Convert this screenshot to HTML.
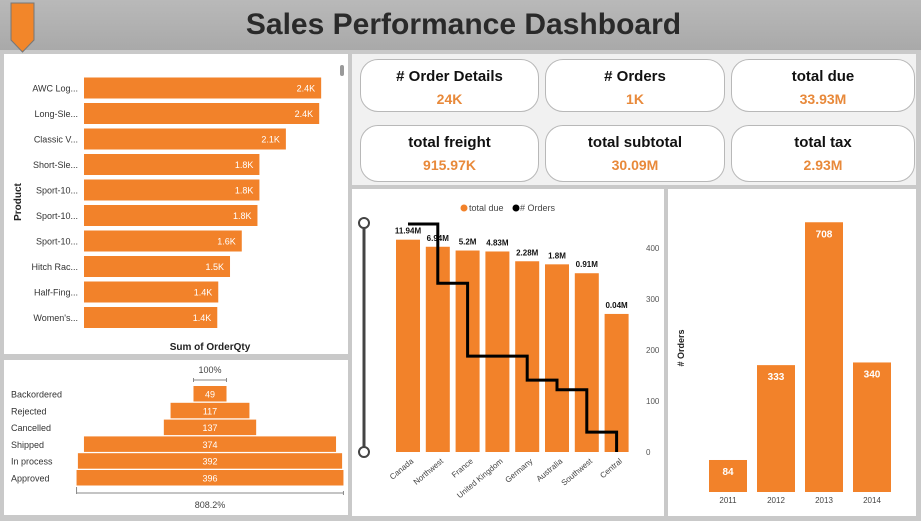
<!DOCTYPE html>
<html><head><meta charset="utf-8"><style>
body{margin:0;width:921px;height:521px;background:#c9c9c9;font-family:"Liberation Sans",sans-serif;position:relative;overflow:hidden}
.p{position:absolute;background:#fff}
.card{position:absolute;border:1.5px solid #b8b8b8;border-radius:18px;background:#fff;text-align:center}
.card .t{font-weight:bold;font-size:15px;color:#111;margin-top:8px}
.card .v{font-weight:bold;font-size:14px;color:#e8893a;margin-top:6px}
svg text{font-family:"Liberation Sans",sans-serif}
</style></head><body>
<div style="position:absolute;left:0;top:0;width:921px;height:50px;background:linear-gradient(#b9b9b9,#a9a9a9)">
<div style="position:absolute;left:0;width:921px;top:8px;text-align:center;font-size:30px;font-weight:bold;color:#2a2a2a;padding-left:3px">Sales Performance Dashboard</div>
<svg style="position:absolute;left:8px;top:2px" width="30" height="52"><polygon points="3,1 26,1 26,38 14.5,50 3,38" fill="#f2862a" stroke="#777"/></svg>
</div>
<div class="p" style="left:4px;top:54px;width:344px;height:300px"></div>
<div class="p" style="left:4px;top:360px;width:344px;height:155px"></div>
<div class="p" style="left:352px;top:54px;width:564px;height:131px;background:#f1f1f1"></div>
<div class="p" style="left:352px;top:189px;width:312px;height:327px"></div>
<div class="p" style="left:668px;top:189px;width:248px;height:327px"></div>
<div class="card" style="left:360px;top:59px;width:177px;height:51px"><div class="t">#&nbsp;Order Details</div><div class="v">24K</div></div>
<div class="card" style="left:545px;top:59px;width:178px;height:51px"><div class="t"># Orders</div><div class="v">1K</div></div>
<div class="card" style="left:731px;top:59px;width:182px;height:51px"><div class="t">total due</div><div class="v">33.93M</div></div>
<div class="card" style="left:360px;top:125px;width:177px;height:55px"><div class="t">total freight</div><div class="v">915.97K</div></div>
<div class="card" style="left:545px;top:125px;width:178px;height:55px"><div class="t">total subtotal</div><div class="v">30.09M</div></div>
<div class="card" style="left:731px;top:125px;width:182px;height:55px"><div class="t">total tax</div><div class="v">2.93M</div></div>
<svg id="s" width="921" height="521" style="position:absolute;left:0;top:0"></svg>
<script>
const products=["AWC Log...","Long-Sle...","Classic V...","Short-Sle...","Sport-10...","Sport-10...","Sport-10...","Hitch Rac...","Half-Fing...","Women's..."];
const productQty=[2.42,2.40,2.06,1.79,1.79,1.77,1.61,1.49,1.37,1.36];
const productLabels=["2.4K","2.4K","2.1K","1.8K","1.8K","1.8K","1.6K","1.5K","1.4K","1.4K"];
const statuses=["Backordered","Rejected","Cancelled","Shipped","In process","Approved"];
const statusCounts=[49,117,137,374,392,396];
const regions=["Canada","Northwest","France","United Kingdom","Germany","Australia","Southwest","Central"];
const regionDue=[11.94,6.94,5.2,4.83,2.28,1.8,0.91,0.04];
const regionDueLabels=["11.94M","6.94M","5.2M","4.83M","2.28M","1.8M","0.91M","0.04M"];
const regionOrders=[447,331,188,188,141,122,39,0];
const rightTicks=[0,100,200,300,400];
const years=["2011","2012","2013","2014"];
const yearOrders=[84,333,708,340];
const S=document.getElementById('s');const NS="http://www.w3.org/2000/svg";
function mk(t,a,txt){const e=document.createElementNS(NS,t);for(const k in a)e.setAttribute(k,a[k]);if(txt!=null)e.textContent=txt;S.appendChild(e);return e;}
const OR="#f2822a";
// product chart
const px=q=>84+q*98, py=i=>88+i*25.5;
products.forEach((p,i)=>{
 let e=mk('rect',{x:84,y:py(i)-10.5,width:px(productQty[i])-84,height:21,fill:OR});
 
 e=mk('text',{x:px(productQty[i])-6,y:py(i)+3.5,'font-size':9,fill:'#fff','text-anchor':'end'},productLabels[i]);
 
 e=mk('text',{x:78,y:py(i)+3.5,'font-size':9,fill:'#333','text-anchor':'end'},p);
 
});
let t=mk('text',{x:21,y:202,'font-size':10,'font-weight':'bold',fill:'#222','text-anchor':'middle',transform:'rotate(-90 21 202)'},'Product');

t=mk('text',{x:210,y:350,'font-size':10,'font-weight':'bold',fill:'#222','text-anchor':'middle'},'Sum of OrderQty');

t=mk('rect',{x:340,y:65,width:4,height:11,rx:2,fill:'#999'});
// funnel
const fw=v=>v*0.674, fy=i=>394+i*16.8, fc=210;
statuses.forEach((s,i)=>{
 let w=fw(statusCounts[i]);
 let e=mk('rect',{x:fc-w/2,y:fy(i)-8,width:w,height:15.5,fill:OR});
 
 e=mk('text',{x:fc,y:fy(i)+3.5,'font-size':9,fill:'#fff','text-anchor':'middle'},statusCounts[i]);
 
 e=mk('text',{x:11,y:fy(i)+3.5,'font-size':9,fill:'#333'},s);
 
});
{let w0=fw(statusCounts[0]),wl=fw(statusCounts[statusCounts.length-1]);
mk('path',{d:`M${fc-w0/2} 382V378M${fc-w0/2} 380H${fc+w0/2}M${fc+w0/2} 382V378`,stroke:'#888',fill:'none'});
t=mk('text',{x:fc,y:373,'font-size':9,fill:'#444','text-anchor':'middle'},'100%');
mk('path',{d:`M${fc-wl/2} 491V487M${fc-wl/2} 494V488M${fc-wl/2} 493H${fc+wl/2}M${fc+wl/2} 491V495`,stroke:'#888',fill:'none'});
t=mk('text',{x:fc,y:508,'font-size':9,fill:'#444','text-anchor':'middle'},'808.2%');}
// region combo
const rx=i=>408+i*29.8, base=452, bh=v=>30*Math.log10(v*1e6)-0, ry=v=>base-v*0.51;
t=mk('line',{x1:364,y1:223,x2:364,y2:452,stroke:'#444','stroke-width':3});
[223,452].forEach(y=>{let c=mk('circle',{cx:364,cy:y,r:5,fill:'#fff',stroke:'#444','stroke-width':2});});
regions.forEach((r,i)=>{
 let h=bh(regionDue[i]);
 let e=mk('rect',{x:rx(i)-12,y:base-h,width:24,height:h,fill:OR});
 
 e=mk('text',{x:rx(i),y:base-h-6,'font-size':8,'font-weight':'bold',fill:'#111','text-anchor':'middle'},regionDueLabels[i]);
 
 e=mk('text',{x:rx(i)+6,y:462,'font-size':8,fill:'#444','text-anchor':'end',transform:`rotate(-40 ${rx(i)+6} 462)`},r);
 
});
{let d=`M${rx(0)} ${ry(regionOrders[0])}`;
 for(let i=0;i<regionOrders.length;i++){ if(i>0)d+=`V${ry(regionOrders[i])}`; if(i<regionOrders.length-1)d+=`H${rx(i+1)}`;}
 t=mk('path',{d,stroke:'#000','stroke-width':3,fill:'none'});}
rightTicks.forEach(v=>{let e=mk('text',{x:646,y:ry(v)+3,'font-size':8,fill:'#555'},v);});
t=mk('circle',{cx:464,cy:208,r:3.5,fill:OR});
t=mk('text',{x:469,y:211,'font-size':9,fill:'#444'},'total due');
t=mk('circle',{cx:516,cy:208,r:3.5,fill:'#000'});
t=mk('text',{x:520,y:211,'font-size':9,fill:'#444'},'# Orders');
// years
const yx=i=>728+i*48, yb=492, yh=v=>v*0.381;
years.forEach((y,i)=>{
 let h=yh(yearOrders[i]);
 let e=mk('rect',{x:yx(i)-19,y:yb-h,width:38,height:h,fill:OR});
 
 e=mk('text',{x:yx(i),y:yb-h+15,'font-size':10,'font-weight':'bold',fill:'#fff','text-anchor':'middle'},yearOrders[i]);
 
 e=mk('text',{x:yx(i),y:503,'font-size':8,fill:'#444','text-anchor':'middle'},y);
 
});
t=mk('text',{x:684,y:348,'font-size':9,'font-weight':'bold',fill:'#222','text-anchor':'middle',transform:'rotate(-90 684 348)'},'# Orders');

</script>
</body></html>
